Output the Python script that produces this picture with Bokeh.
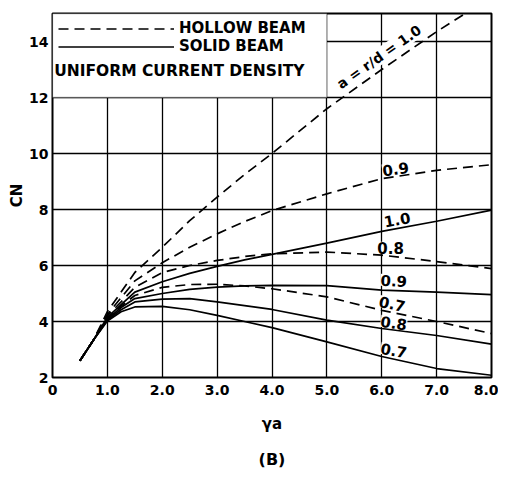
from bokeh.plotting import figure
from bokeh.models import FixedTicker, Legend, LegendItem, Label, BoxAnnotation, ColumnDataSource, Title
from bokeh.core.properties import value
from bokeh.embed import file_html
from bokeh.resources import INLINE

# ---- data ----
gamma_a = [0.5, 0.75, 1.0, 1.25, 1.5, 2.0, 2.5, 3.0, 3.5, 4.0, 5.0, 6.0, 7.0, 8.0]

hollow_10 = [2.6, 3.35, 4.35, 5.05, 5.75, 6.65, 7.6, 8.44, 9.25, 10.0, 11.6, 13.0, 14.35, 15.6]
hollow_09 = [2.6, 3.35, 4.25, 4.85, 5.45, 6.1, 6.65, 7.13, 7.57, 7.96, 8.56, 9.1, 9.4, 9.6]
hollow_08 = [2.6, 3.35, 4.2, 4.7, 5.22, 5.75, 6.0, 6.18, 6.32, 6.42, 6.48, 6.37, 6.14, 5.89]
hollow_07 = [2.6, 3.35, 4.12, 4.55, 4.93, 5.22, 5.32, 5.33, 5.27, 5.17, 4.88, 4.4, 4.0, 3.57]

solid_10 = [2.6, 3.35, 4.15, 4.6, 5.05, 5.42, 5.72, 5.97, 6.2, 6.4, 6.8, 7.22, 7.58, 7.98]
solid_09 = [2.6, 3.35, 4.08, 4.5, 4.82, 5.0, 5.15, 5.23, 5.27, 5.29, 5.28, 5.12, 5.05, 4.96]
solid_08 = [2.6, 3.35, 4.05, 4.42, 4.7, 4.8, 4.82, 4.7, 4.57, 4.43, 4.05, 3.75, 3.5, 3.19]
solid_07 = [2.6, 3.35, 4.02, 4.35, 4.52, 4.54, 4.42, 4.22, 4.0, 3.78, 3.27, 2.75, 2.32, 2.08]

x_ticks = [0, 1, 2, 3, 4, 5, 6, 7, 8]
x_tick_labels = ["0", "1.0", "2.0", "3.0", "4.0", "5.0", "6.0", "7.0", "8.0"]
y_ticks = [2, 4, 6, 8, 10, 12, 14]
y_tick_labels = ["2", "4", "6", "8", "10", "12", "14"]

curve_labels = ["0.9", "1.0", "0.8", "0.9", "0.7", "0.8", "0.7"]
curve_label_x = [6.25, 6.28, 6.16, 6.22, 6.19, 6.22, 6.22]
curve_label_y = [9.46, 7.65, 6.63, 5.47, 4.64, 3.96, 2.98]
curve_label_angle_deg = [8, 10, 0, -3, -12, -8, -10]

FONT = "DejaVu Sans"
DASH = "10 6"
LW = 1.7

p = figure(width=498, height=480, x_range=(0, 8), y_range=(2, 15),
           output_backend="svg", toolbar_location=None,
           min_border_left=52, min_border_right=7, min_border_top=13, min_border_bottom=101)

p.outline_line_color = "black"
p.outline_line_width = 2
p.background_fill_color = "white"

for g in (p.xgrid, p.ygrid):
    g.grid_line_color = "black"
    g.grid_line_width = 1.3
p.xgrid.ticker = FixedTicker(ticks=x_ticks)
p.ygrid.ticker = FixedTicker(ticks=y_ticks)

p.xaxis.ticker = FixedTicker(ticks=x_ticks)
p.xaxis.major_label_overrides = dict(zip(x_ticks, x_tick_labels))
p.yaxis.ticker = FixedTicker(ticks=y_ticks)
p.yaxis.major_label_overrides = dict(zip(y_ticks, y_tick_labels))

for ax in (p.xaxis[0], p.yaxis[0]):
    ax.axis_line_color = None
    ax.major_tick_line_color = None
    ax.minor_tick_line_color = None
    ax.major_tick_out = 0
    ax.major_tick_in = 0
    ax.minor_tick_out = 0
    ax.minor_tick_in = 0
    ax.major_label_text_font = FONT
    ax.major_label_text_font_style = "bold"
    ax.major_label_text_font_size = "14px"
    ax.major_label_text_color = "black"
    ax.axis_label_text_font = FONT
    ax.axis_label_text_font_style = "bold"
    ax.axis_label_text_font_size = "15px"
    ax.axis_label_text_color = "black"

p.xaxis.major_label_standoff = 7
p.yaxis.major_label_standoff = 4
p.xaxis.axis_label = "γa"
p.xaxis.axis_label_standoff = 17
p.yaxis.axis_label = "CN"
p.yaxis.axis_label_standoff = 0

# legend region box (hides grid there)
p.add_layout(BoxAnnotation(left=0, right=5, bottom=12, top=15, fill_color="white",
                           fill_alpha=1.0, line_color="black", line_width=1.3, level="underlay"))

rh = []
for ys in (hollow_10, hollow_09, hollow_08, hollow_07):
    rh.append(p.line(gamma_a, ys, line_color="black", line_width=LW, line_dash=DASH))
rs = []
for ys in (solid_10, solid_09, solid_08, solid_07):
    rs.append(p.line(gamma_a, ys, line_color="black", line_width=LW))

src = ColumnDataSource(dict(x=curve_label_x, y=curve_label_y, t=curve_labels,
                            a=[d * 3.14159265 / 180 for d in curve_label_angle_deg]))
p.text(x="x", y="y", text="t", angle="a", source=src, text_font=value(FONT),
       text_font_style="bold", text_font_size="15px", text_align="center",
       text_baseline="middle", text_color="black",
       background_fill_color="white", background_fill_alpha=1.0)

p.add_layout(Label(x=5.95, y=13.45, text="a = r/d = 1.0", angle=35 * 3.14159265 / 180,
                   text_font=FONT, text_font_style="bold", text_font_size="14px",
                   text_color="black", text_align="center", text_baseline="middle",
                   background_fill_color="white", background_fill_alpha=1.0))

legend = Legend(items=[LegendItem(label="HOLLOW BEAM", renderers=[rh[0]]),
                       LegendItem(label="SOLID BEAM", renderers=[rs[0]])],
                location="top_left", margin=6, padding=2, spacing=0,
                glyph_width=116, glyph_height=17, label_height=17, label_standoff=5,
                border_line_color=None, background_fill_alpha=0,
                label_text_font=FONT, label_text_font_style="bold",
                label_text_font_size="15px", label_text_color="black")
p.add_layout(legend)

p.add_layout(Label(x=0.03, y=12.95, text="UNIFORM CURRENT DENSITY", text_font=FONT,
                   text_font_style="bold", text_font_size="15.5px", text_color="black",
                   text_baseline="alphabetic"))

# figure caption below the axis
p.add_layout(Title(text="(B)", align="center", text_font=FONT, text_font_style="bold",
                   text_font_size="16px", text_color="black", standoff=24), "below")

open("out.html", "w").write(file_html(p, INLINE))
